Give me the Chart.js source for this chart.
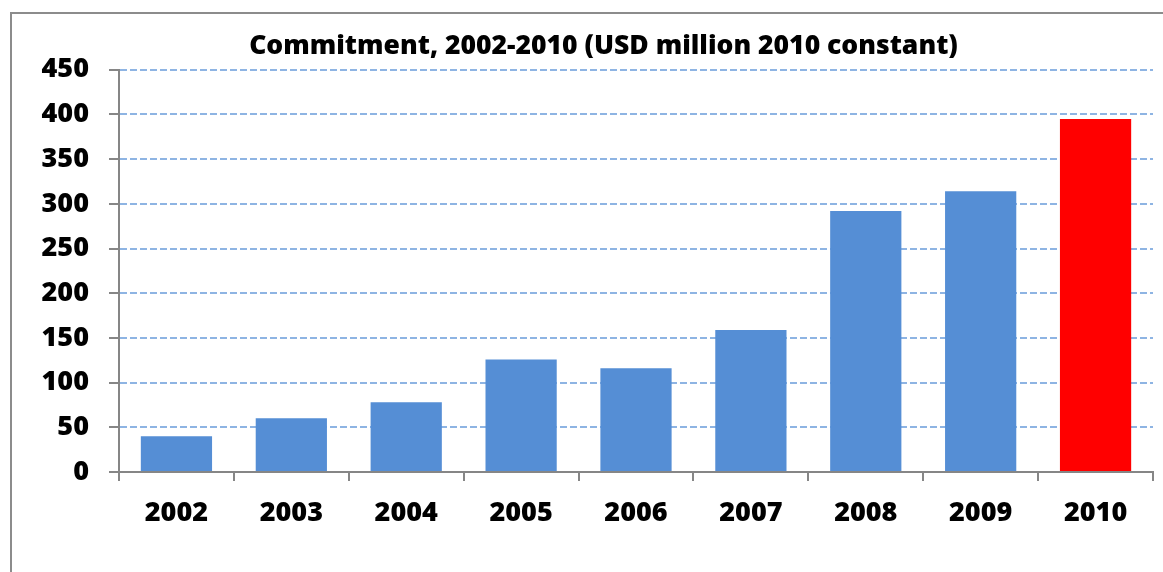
<!DOCTYPE html>
<html>
<head>
<meta charset="utf-8">
<script src="https://cdn.jsdelivr.net/npm/chart.js@4"></script>
<style>
  body { margin: 0; background: #fff; overflow: hidden; }
  #frame {
    position: absolute; left: 10px; top: 12px; width: 1200px; height: 600px;
    border-left: 2px solid #8c8c8c; border-top: 2px solid #8c8c8c;
  }
  #wrap { position: absolute; left: 0; top: 0; width: 1163px; height: 572px; }
</style>
</head>
<body>
<div id="frame"></div>
<div id="wrap"><canvas id="myChart"></canvas></div>
<script>
const years = ["2002", "2003", "2004", "2005", "2006", "2007", "2008", "2009", "2010"];
const commitment = [40, 60, 78, 126, 116, 159, 292, 314, 395];
const barColors = ["#558ED5", "#558ED5", "#558ED5", "#558ED5", "#558ED5", "#558ED5", "#558ED5", "#558ED5", "#FF0000"];

const labelFont = { family: "'Open Sans', sans-serif", size: 27, weight: "800" };

// title in the original is centred a bit to the right of the canvas centre
const shiftTitle = {
  id: "shiftTitle",
  afterLayout(chart) {
    if (chart.titleBlock) chart.titleBlock.left = 54;
  },
};

const ctx = document.getElementById("myChart");
new Chart(ctx, {
  type: "bar",
  data: {
    labels: years,
    datasets: [
      {
        label: "Commitment",
        data: commitment,
        backgroundColor: barColors,
        borderWidth: 0,
        categoryPercentage: 1,
        barPercentage: 0.62,
      },
    ],
  },
  options: {
    responsive: true,
    maintainAspectRatio: false,
    animation: false,
    layout: { padding: { left: 0, right: 10, top: 0, bottom: 0 } },
    plugins: {
      legend: { display: false },
      tooltip: { enabled: false },
      title: {
        display: true,
        text: "Commitment, 2002-2010 (USD million 2010 constant)",
        color: "#000",
        font: { family: "'Open Sans', sans-serif", size: 26.5, weight: "800", lineHeight: 1.2 },
        padding: { top: 31, bottom: 7 },
      },
    },
    scales: {
      y: {
        min: 0,
        max: 450,
        ticks: { stepSize: 50, color: "#000", font: labelFont, padding: 20 },
        grid: {
          color: "#8EB4E3",
          lineWidth: 2,
          tickColor: "#868686",
          tickLength: 10,
          tickBorderDash: [],
        },
        border: { color: "#868686", width: 2, dash: [7, 3] },
        afterFit: (s) => { s.width = 119; },
      },
      x: {
        offset: true,
        ticks: { color: "#000", font: labelFont, padding: 16 },
        grid: {
          offset: true,
          drawOnChartArea: false,
          color: "#868686",
          lineWidth: 2,
          tickLength: 9,
        },
        border: { color: "#868686", width: 2 },
        afterFit: (s) => { s.height = 100; },
      },
    },
  },
  plugins: [shiftTitle],
});
</script>
</body>
</html>
